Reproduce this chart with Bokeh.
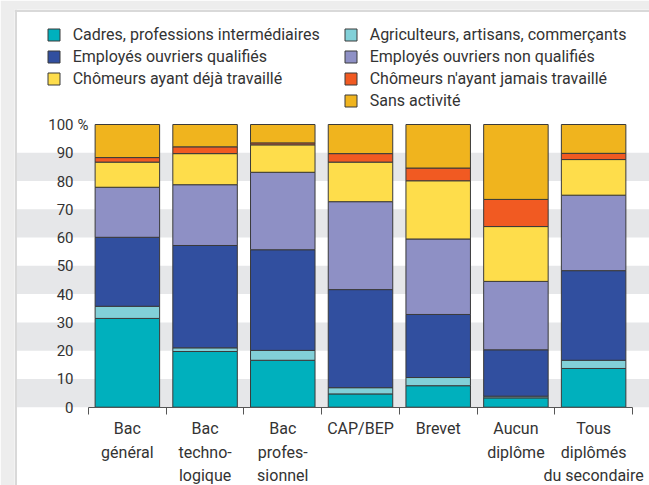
from bokeh.plotting import figure
from bokeh.models import (ColumnDataSource, LinearAxis, FixedTicker, Legend, LegendItem,
                          BoxAnnotation, Label, Range1d)
from bokeh.embed import file_html
from bokeh.resources import INLINE

# ---------------- data ----------------
categories = ["Bac\ngénéral", "Bac\ntechno-\nlogique", "Bac\nprofes-\nsionnel", "CAP/BEP",
              "Brevet", "Aucun\ndiplôme", "Tous\ndiplômés\ndu secondaire"]
series_names = ["Cadres, professions intermédiaires", "Agriculteurs, artisans, commerçants",
                "Employés ouvriers qualifiés", "Employés ouvriers non qualifiés",
                "Chômeurs ayant déjà travaillé", "Chômeurs n'ayant jamais travaillé",
                "Sans activité"]
cadres = [31.4, 19.7, 16.6, 4.7, 7.6, 3.3, 13.7]
agriculteurs = [4.3, 1.3, 3.5, 2.2, 2.9, 0.6, 2.9]
emp_qualifies = [24.4, 36.2, 35.6, 34.7, 22.3, 16.4, 31.7]
emp_non_qualifies = [17.7, 21.5, 27.4, 31.1, 26.7, 24.2, 26.7]
chom_deja = [8.9, 11.0, 9.7, 14.0, 20.6, 19.4, 12.6]
chom_jamais = [1.6, 2.4, 0.7, 3.0, 4.5, 9.6, 2.2]
sans_activite = [11.7, 7.9, 6.5, 10.3, 15.4, 26.5, 10.2]
y_ticks = [0, 10, 20, 30, 40, 50, 60, 70, 80, 90, 100]

colors = ["#00b0bd", "#82d0d8", "#314f9f", "#8e90c5", "#fedd4b", "#f15a22", "#f0b41e"]
keys = ["s0", "s1", "s2", "s3", "s4", "s5", "s6"]
series = [cadres, agriculteurs, emp_qualifies, emp_non_qualifies, chom_deja, chom_jamais, sans_activite]

n = len(categories)
data = {"x": list(range(n))}
for k, s in zip(keys, series):
    data[k] = s
source = ColumnDataSource(data)

# ---------------- layout helpers (page pixels) ----------------
W, H = 649, 485
FRAME_L, FRAME_T = 14, 9
px_per_cat = 77.71
cat0_page = 126.86
px_per_unit = 2.827
zero_page = 406.7

def xdata(page_x):
    return (page_x - cat0_page) / px_per_cat

def ydata(page_y):
    return (zero_page - page_y) / px_per_unit

FONT = "Roboto"
TXT = "#333333"

p = figure(width=W, height=H, output_backend="svg", toolbar_location=None,
           x_axis_location=None, y_axis_location=None,
           x_range=Range1d(xdata(FRAME_L), xdata(W)),
           y_range=Range1d(ydata(H), ydata(FRAME_T)),
           min_border_left=FRAME_L, min_border_right=0, min_border_top=FRAME_T, min_border_bottom=0)
p.border_fill_color = "#ededed"
p.background_fill_color = "white"
p.outline_line_color = None
p.xgrid.visible = False
p.ygrid.visible = False

# panel border (left and top)
p.add_layout(BoxAnnotation(left=xdata(14), right=xdata(16.5), fill_color="#d9d9d9", fill_alpha=1.0,
                           line_color=None, level="underlay"))
p.add_layout(BoxAnnotation(bottom=ydata(11.5), left=xdata(14), fill_color="#d9d9d9", fill_alpha=1.0,
                           line_color=None, level="underlay"))

# alternating bands
for lo in range(0, 100, 20):
    p.add_layout(BoxAnnotation(bottom=lo, top=lo + 10, left=xdata(16.5), fill_color="#e6e7e9",
                               fill_alpha=1.0, line_color=None, level="underlay"))

renderers = p.vbar_stack(keys, x="x", width=0.83, source=source, color=colors,
                         line_color="#3a3a3a", line_width=1)

# y axis (labels only)
yax = LinearAxis(ticker=FixedTicker(ticks=y_ticks), fixed_location=xdata(73))
yax.axis_line_color = None
yax.major_tick_line_color = None
yax.minor_tick_line_color = None
yax.major_tick_out = 0
yax.major_tick_in = 0
yax.major_label_standoff = 0
yax.major_label_text_font = FONT
yax.major_label_text_font_size = "15px"
yax.major_label_text_color = TXT
p.add_layout(yax, "left")
p.add_layout(Label(x=xdata(77), y=100, text="%", text_font=FONT, text_font_size="15px",
                   text_color=TXT, text_baseline="middle", text_align="left"))

# x axis: line + boundary ticks
xax = LinearAxis(ticker=FixedTicker(ticks=[i - 0.5 for i in range(n + 1)]), fixed_location=0,
                 bounds=(-0.5, n - 0.5))
xax.axis_line_color = "#555555"
xax.major_tick_line_color = "#555555"
xax.major_tick_out = 7
xax.major_tick_in = 0
xax.minor_tick_line_color = None
xax.major_label_text_color = None
xax.major_label_text_font_size = "1px"
p.add_layout(xax, "below")

# x axis: category labels
xlab = LinearAxis(ticker=FixedTicker(ticks=list(range(n))), fixed_location=0,
                  major_label_overrides={i: c for i, c in enumerate(categories)})
xlab.axis_line_color = None
xlab.major_tick_line_color = None
xlab.minor_tick_line_color = None
xlab.major_tick_out = 0
xlab.major_tick_in = 0
xlab.major_label_standoff = 12
xlab.major_label_text_font = FONT
xlab.major_label_text_font_size = "16px"
xlab.major_label_text_color = TXT
xlab.major_label_text_line_height = 1.23
p.add_layout(xlab, "below")

# legends
ITEM_H, SP = 20, 2
def make_legend(idx, left_page, top_page):
    items = [LegendItem(label=series_names[i], renderers=[renderers[i]]) for i in idx]
    rows = len(idx)
    lh = rows * ITEM_H + (rows - 1) * SP
    frame_h = H - FRAME_T
    leg = Legend(items=items, location=(left_page - FRAME_L, frame_h - (top_page - FRAME_T) - lh),
                 glyph_width=15, glyph_height=15, label_height=ITEM_H, spacing=SP, padding=0, margin=0,
                 label_standoff=12, border_line_color=None, background_fill_alpha=0,
                 label_text_font=FONT, label_text_font_size="16px", label_text_color=TXT)
    p.add_layout(leg, "center")

make_legend([0, 2, 4], 45.7, 24.5)
make_legend([1, 3, 5, 6], 342.7, 24.5)

open("out.html", "w").write(file_html(p, INLINE))
